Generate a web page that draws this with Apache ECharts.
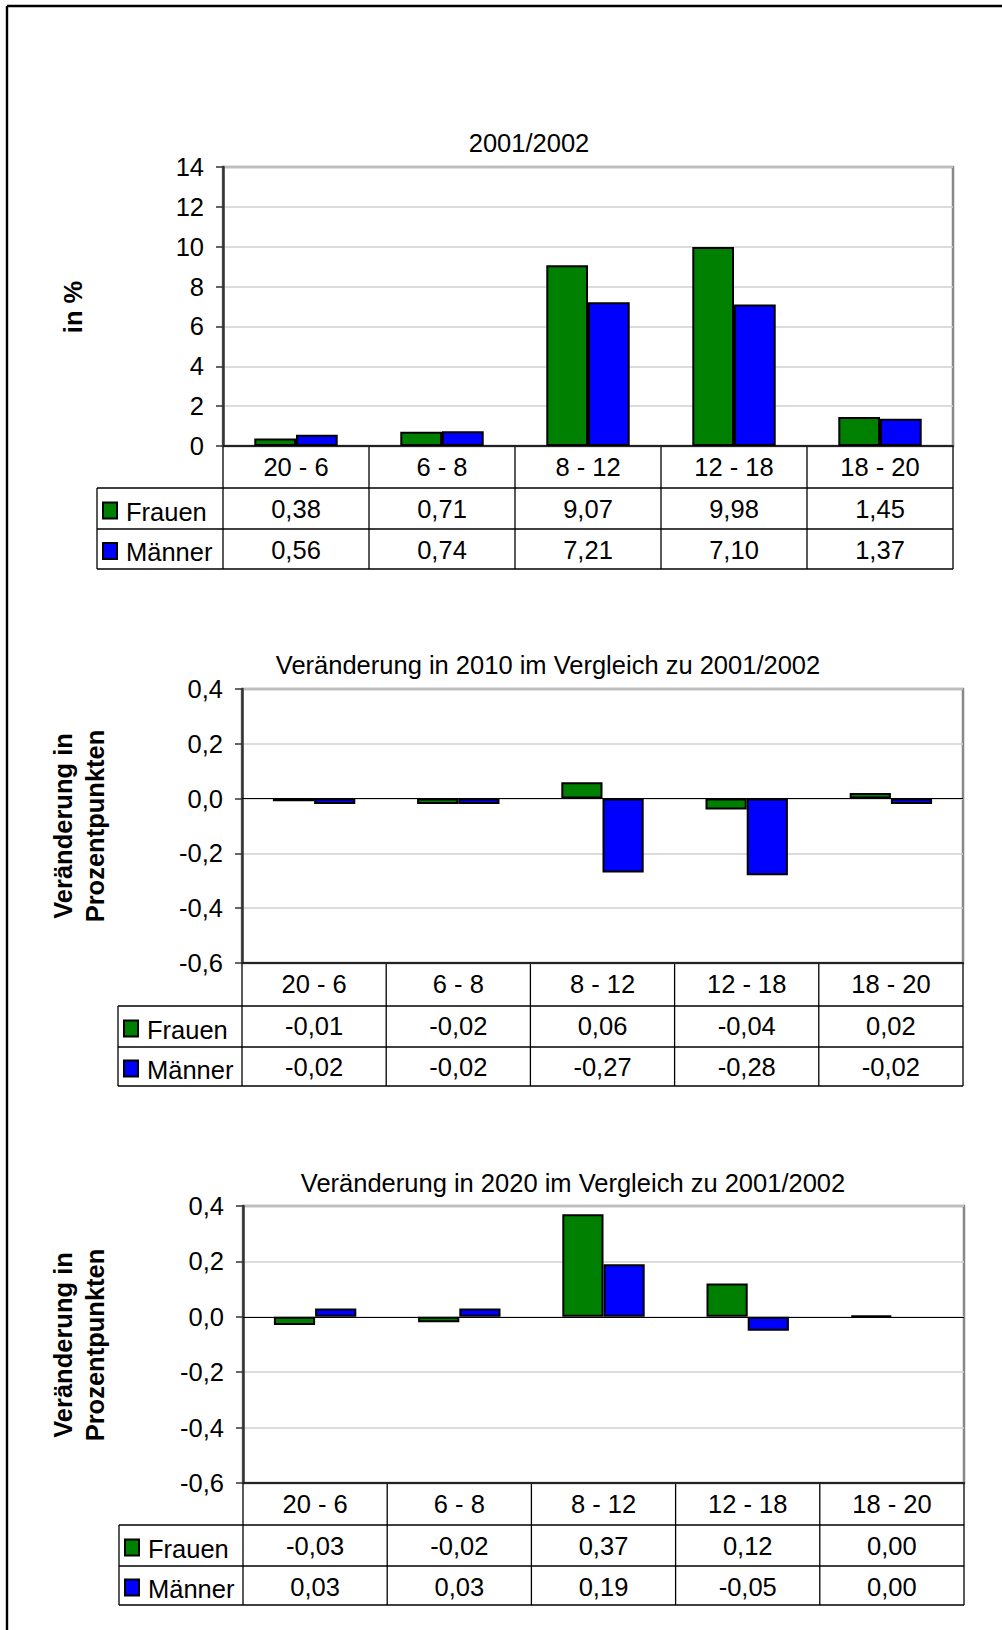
<!DOCTYPE html>
<html><head><meta charset="utf-8">
<script src="https://cdn.jsdelivr.net/npm/echarts@6/dist/echarts.min.js"></script>
<style>html,body{margin:0;padding:0;background:#fff}#c{width:1002px;height:1630px}</style>
</head><body><div id="c"></div>
<script>
// ---------- data ----------
const categories = ['20 - 6', '6 - 8', '8 - 12', '12 - 18', '18 - 20'];
const seriesNames = ['Frauen', 'Männer'];
const frauen2001 = [0.38, 0.71, 9.07, 9.98, 1.45];
const maenner2001 = [0.56, 0.74, 7.21, 7.10, 1.37];
const frauen2010 = [-0.01, -0.02, 0.06, -0.04, 0.02];
const maenner2010 = [-0.02, -0.02, -0.27, -0.28, -0.02];
const frauen2020 = [-0.03, -0.02, 0.37, 0.12, 0.004];
const maenner2020 = [0.03, 0.03, 0.19, -0.05, 0];
const chartTitles = ['2001/2002', 'Veränderung in 2010 im Vergleich zu 2001/2002', 'Veränderung in 2020 im Vergleich zu 2001/2002'];
const yAxisTitles = [['in %'], ['Veränderung in', 'Prozentpunkten'], ['Veränderung in', 'Prozentpunkten']];
const yMins = [0, -0.6, -0.6];
const yMaxs = [14, 0.4, 0.4];
const yIntervals = [2, 0.2, 0.2];
const yDecimals = [0, 1, 1];

// ---------- layout & style ----------
const FONT = '"Liberation Sans", Arial, Helvetica, sans-serif';
const FS = 25.5;
const colors = ['#008000', '#0000ff'];
const layout = [
  {left: 223, top: 167, right: 953, bottom: 446, tableLeft: 97, rows: [488, 529, 569], titleX: 529, titleY: 143, yTitleX: [73], yTitleY: 307},
  {left: 242, top: 689, right: 963, bottom: 963, tableLeft: 118, rows: [1006, 1047, 1086], titleX: 548, titleY: 665, yTitleX: [63, 95], yTitleY: 826},
  {left: 243, top: 1206, right: 964, bottom: 1483, tableLeft: 119, rows: [1525, 1566, 1605], titleX: 573, titleY: 1183, yTitleX: [63, 95], yTitleY: 1345}
];
const dataSets = [[frauen2001, maenner2001], [frauen2010, maenner2010], [frauen2020, maenner2020]];

const fmt2 = v => v.toFixed(2).replace('.', ',');

const grids = [], xAxes = [], yAxes = [], series = [], graphics = [];

// outer frame
graphics.push({type: 'line', shape: {x1: 7, y1: 6, x2: 7, y2: 1630}, style: {stroke: '#000', lineWidth: 2.4}});
graphics.push({type: 'line', shape: {x1: 7, y1: 6, x2: 1002, y2: 6}, style: {stroke: '#000', lineWidth: 2.4}});

layout.forEach((L, i) => {
  const [F, M] = dataSets[i];
  grids.push({left: L.left, top: L.top, width: L.right - L.left, height: L.bottom - L.top,
    show: true, borderColor: '#888', borderWidth: 2.5, backgroundColor: 'transparent', containLabel: false});
  xAxes.push({
    type: 'category', gridIndex: i, data: categories, position: 'bottom',
    axisLine: {show: true, onZero: false, lineStyle: {color: '#222', width: 2.2}},
    axisTick: {show: false},
    splitLine: {show: false},
    axisLabel: {
      interval: 0, margin: 0, color: '#000',
      formatter: (v, idx) => `{h|${v}}\n{v|${fmt2(F[idx])}}\n{v|${fmt2(M[idx])}}`,
      rich: {
        h: {fontSize: FS, fontFamily: FONT, lineHeight: 42, color: '#000'},
        v: {fontSize: FS, fontFamily: FONT, lineHeight: 41, color: '#000'}
      }
    }
  });
  yAxes.push({
    type: 'value', gridIndex: i, min: yMins[i], max: yMaxs[i], interval: yIntervals[i],
    axisLine: {show: true, lineStyle: {color: '#333', width: 2.5}},
    axisTick: {show: true, length: 7, lineStyle: {color: '#333', width: 1.5}},
    axisLabel: {fontSize: FS, fontFamily: FONT, color: '#000', margin: 19,
      formatter: v => v.toFixed(yDecimals[i]).replace('.', ',')},
    splitLine: {show: true, lineStyle: {color: '#d0d0d0', width: 1.5}}
  });
  [F, M].forEach((arr, s) => {
    const ser = {
      type: 'bar', name: seriesNames[s], xAxisIndex: i, yAxisIndex: i,
      barGap: '0%', barCategoryGap: '42.86%',
      itemStyle: {color: colors[s], borderColor: '#000', borderWidth: 2},
      data: arr.map(v => v === 0 ? {value: v, itemStyle: {borderWidth: 0}} : v),
      animation: false
    };
    if (s === 0 && yMins[i] < 0) {
      ser.markLine = {silent: true, symbol: ['none', 'none'], label: {show: false},
        lineStyle: {color: '#000', width: 1.2, type: 'solid'}, data: [{yAxis: 0}], animation: false};
    }
    series.push(ser);
  });

  // chart title
  graphics.push({type: 'text', x: L.titleX, y: L.titleY,
    style: {text: chartTitles[i], font: `${FS}px ${FONT}`, fill: '#000', align: 'center', verticalAlign: 'middle'}});
  // y axis title
  yAxisTitles[i].forEach((t, k) => {
    graphics.push({type: 'text', x: L.yTitleX[k], y: L.yTitleY, rotation: Math.PI / 2,
      style: {text: t, font: `bold ${FS}px ${FONT}`, fill: '#000', align: 'center', verticalAlign: 'middle'}});
  });
  // table lines
  const catW = (L.right - L.left) / categories.length;
  const lineStyle = {stroke: '#000', lineWidth: 1.3};
  for (let k = 1; k <= categories.length; k++) {
    const x = L.left + k * catW;
    graphics.push({type: 'line', shape: {x1: x, y1: L.bottom, x2: x, y2: L.rows[2]}, style: lineStyle});
  }
  graphics.push({type: 'line', shape: {x1: L.left, y1: L.bottom, x2: L.left, y2: L.rows[2]}, style: lineStyle});
  graphics.push({type: 'line', shape: {x1: L.tableLeft, y1: L.rows[0], x2: L.tableLeft, y2: L.rows[2]}, style: lineStyle});
  L.rows.forEach(y => {
    graphics.push({type: 'line', shape: {x1: L.tableLeft, y1: y, x2: L.right, y2: y}, style: lineStyle});
  });
  // legend keys & row labels
  seriesNames.forEach((n, s) => {
    const cy = (L.rows[s] + L.rows[s + 1]) / 2;
    graphics.push({type: 'rect', shape: {x: L.tableLeft + 6, y: cy - 6, width: 14, height: 16},
      style: {fill: colors[s], stroke: '#000', lineWidth: 2}});
    graphics.push({type: 'text', x: L.tableLeft + 29, y: cy + 3,
      style: {text: n, font: `${FS}px ${FONT}`, fill: '#000', align: 'left', verticalAlign: 'middle'}});
  });
});

const chart = echarts.init(document.getElementById('c'), null, {renderer: 'svg', width: 1002, height: 1630});
chart.setOption({
  animation: false,
  backgroundColor: '#fff',
  grid: grids, xAxis: xAxes, yAxis: yAxes, series: series,
  graphic: graphics
});
</script>
</body></html>
